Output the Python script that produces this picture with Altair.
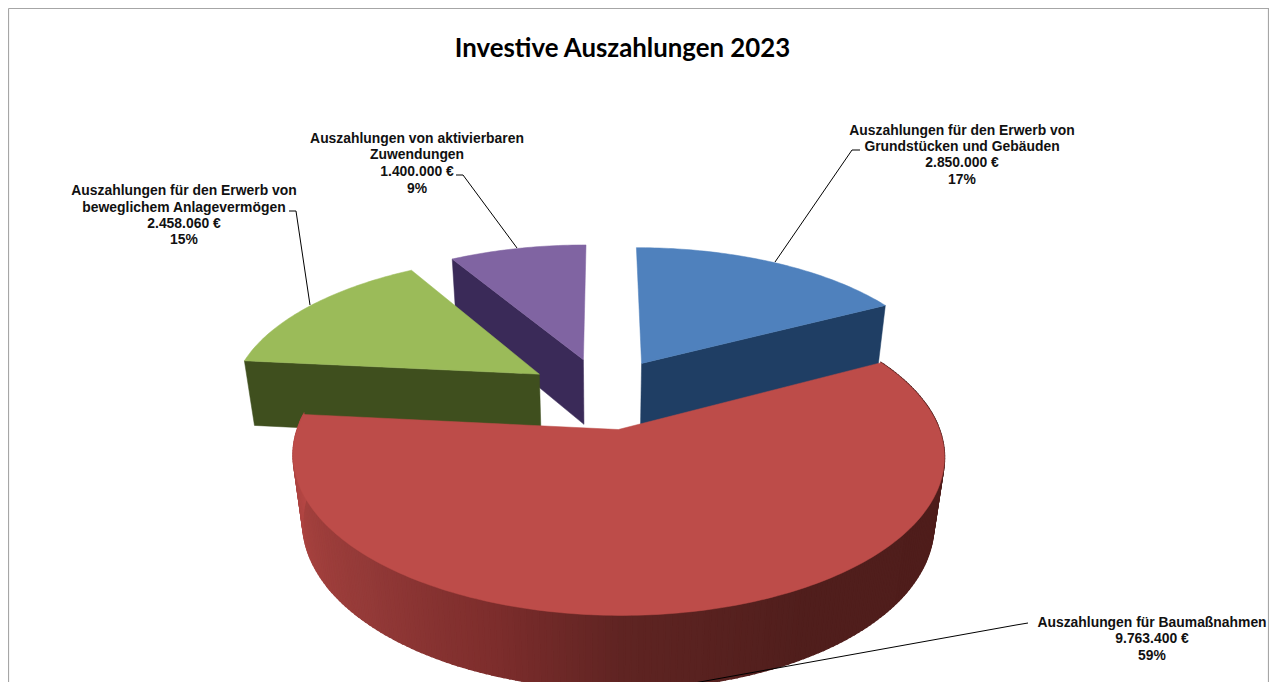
import math
import altair as alt

# ---- values ----
TITLE = "Investive Auszahlungen 2023"
AMOUNTS = [2850000, 9763400, 2458060, 1400000]
AMOUNT_TEXT = ["2.850.000 €", "9.763.400 €", "2.458.060 €", "1.400.000 €"]
PERCENT_TEXT = ["17%", "59%", "15%", "9%"]
NAME_LINES = [
    ["Auszahlungen für den Erwerb von", "Grundstücken und Gebäuden"],
    ["Auszahlungen für Baumaßnahmen"],
    ["Auszahlungen für den Erwerb von", "beweglichem Anlagevermögen"],
    ["Auszahlungen von aktivierbaren", "Zuwendungen"],
]
TOP_COLORS = ["#4f81bd", "#bd4c49", "#9bbb59", "#8064a2"]
WALL_COLORS = ["#1f3e64", None, "#3f4f1e", "#3a2a58"]

# ---- layout / styling ----
OFF = 8            # page margin
CX, CY = 603, 393  # centre of the pie on the page
F, G, P = 308.5, 143, 0.16  # perspective
HEIGHT_Z, Q = 68, 0.03    # thickness and convergence
EXPLODE = 0.25
LABEL_POS = [(962, [131, 147, 163, 180]), (1152, [623, 639, 656]),
             (184, [191, 208, 224, 240]), (417, [139, 155, 172, 189])]
LEADERS = [
    [(775, 262), (852, 150), (860, 150)],
    [(1028, 623), (1016, 625), (672, 687)],
    [(310, 305), (296, 211), (289, 211)],
    [(517, 248), (463, 175), (456, 175)],
]
FRAME = [(8.5, 8.5), (1268.5, 8.5), (1268.5, 700), (8.5, 700), (8.5, 8.5)]
RED_WALL_STOPS = [(276, (186, 72, 70)), (250, (165, 65, 62)), (225, (148, 58, 56)),
                  (200, (125, 45, 44)), (180, (95, 36, 34)), (150, (80, 30, 28)),
                  (60, (78, 28, 26))]


def project(x, y, bottom=False):
    d = 1 + P * y
    if bottom:
        d += Q
        return [CX + F * x / d - OFF, CY + (-G * y + HEIGHT_Z) / d - OFF]
    return [CX + F * x / d - OFF, CY - G * y / d - OFF]


def polar(deg, ex, ey, r=1.0):
    a = math.radians(deg)
    return ex + r * math.sin(a), ey + r * math.cos(a)


def feature(points, color, width=0.5, kind="Polygon"):
    pts = [list(p) for p in points]
    if kind == "Polygon":
        geom = {"type": "Polygon", "coordinates": [pts + [pts[0]]]}
    else:
        geom = {"type": "LineString", "coordinates": pts}
    return {"type": "Feature", "geometry": geom, "properties": {"c": color, "w": width}}


def wall_color(deg):
    for (a1, c1), (a2, c2) in zip(RED_WALL_STOPS, RED_WALL_STOPS[1:]):
        if a2 <= deg <= a1:
            t = (a1 - deg) / (a1 - a2)
            rgb = [round(c1[i] + (c2[i] - c1[i]) * t) for i in range(3)]
            return "#%02x%02x%02x" % tuple(rgb)
    return "#4e1c1a"


total = sum(AMOUNTS)
spans, start = [], 0.0
for v in AMOUNTS:
    spans.append((start, start + v / total * 360))
    start += v / total * 360

pieces = {}
for i, (a0, a1) in enumerate(spans):
    mid = math.radians((a0 + a1) / 2)
    ex, ey = EXPLODE * math.sin(mid), EXPLODE * math.cos(mid)
    steps = max(8, int(a1 - a0))
    angs = [a0 + (a1 - a0) * k / steps for k in range(steps + 1)]
    top = [project(ex, ey)] + [project(*polar(a, ex, ey)) for a in angs]
    walls = []
    if i == 1:  # outer rim of the front slice, shaded along its length
        for k in range(len(angs) - 1):
            p, q = polar(angs[k], ex, ey), polar(angs[k + 1], ex, ey)
            walls.append(feature([project(*p), project(*q), project(*q, bottom=True),
                                  project(*p, bottom=True)], wall_color((angs[k] + angs[k + 1]) / 2), 1.6))
    else:       # the radial cut that faces the viewer
        cut = {0: a1, 2: a0, 3: a0}[i]
        r = polar(cut, ex, ey)
        c = (ex, ey)
        walls.append(feature([project(*c), project(*r), project(*r, bottom=True),
                              project(*c, bottom=True)], WALL_COLORS[i]))
    pieces[i] = walls + [feature(top, TOP_COLORS[i])]

features = pieces[3] + pieces[2] + pieces[0] + pieces[1]
lines = [feature([(x - OFF, y - OFF) for x, y in pts], "#000000", 1, "LineString") for pts in LEADERS]
frame = [feature([(x - OFF, y - OFF) for x, y in FRAME], "#a6a6a6", 1, "LineString")]

PROJ = dict(type="identity", scale=1, translate=[0, 0])


def geo(feats):
    return alt.InlineData(values={"type": "FeatureCollection", "features": feats},
                          format=alt.DataFormat(property="features", type="json"))


frame_layer = alt.Chart(geo(frame)).mark_geoshape(filled=False, stroke="#a6a6a6", strokeWidth=1.2).project(**PROJ)
pie_layer = alt.Chart(geo(features)).mark_geoshape().encode(
    fill=alt.Fill("properties.c:N", scale=None),
    stroke=alt.Stroke("properties.c:N", scale=None),
    strokeWidth=alt.StrokeWidth("properties.w:Q", scale=None),
).project(**PROJ)
line_layer = alt.Chart(geo(lines)).mark_geoshape(filled=False, stroke="#000000", strokeWidth=1).project(**PROJ)

rows = []
for i, (cx, ys) in enumerate(LABEL_POS):
    texts = NAME_LINES[i] + [AMOUNT_TEXT[i], PERCENT_TEXT[i]]
    for t, y in zip(texts, ys):
        rows.append({"x": cx - OFF, "y": y - OFF, "t": t})

labels = alt.Chart(alt.Data(values=rows)).mark_text(
    font="Liberation Sans", fontWeight="bold", fontSize=13.9, color="#111111", align="center", baseline="middle"
).encode(x=alt.X("x:Q", scale=None, axis=None), y=alt.Y("y:Q", scale=None, axis=None), text="t:N")

title = alt.Chart(alt.Data(values=[{"x": 622.5 - OFF, "y": 49 - OFF, "t": TITLE}])).mark_text(
    font="Lato", fontWeight="bold", fontSize=25.8, color="#000000", align="center", baseline="middle"
).encode(x=alt.X("x:Q", scale=None, axis=None), y=alt.Y("y:Q", scale=None, axis=None), text="t:N")

chart = alt.layer(frame_layer, pie_layer, line_layer, labels, title).properties(
    width=1261, height=674, padding=0, background="white",
    autosize=alt.AutoSizeParams(type="none"),
).configure_view(stroke=None)

chart.save("out.html", embed_options={"renderer": "svg", "actions": False})
